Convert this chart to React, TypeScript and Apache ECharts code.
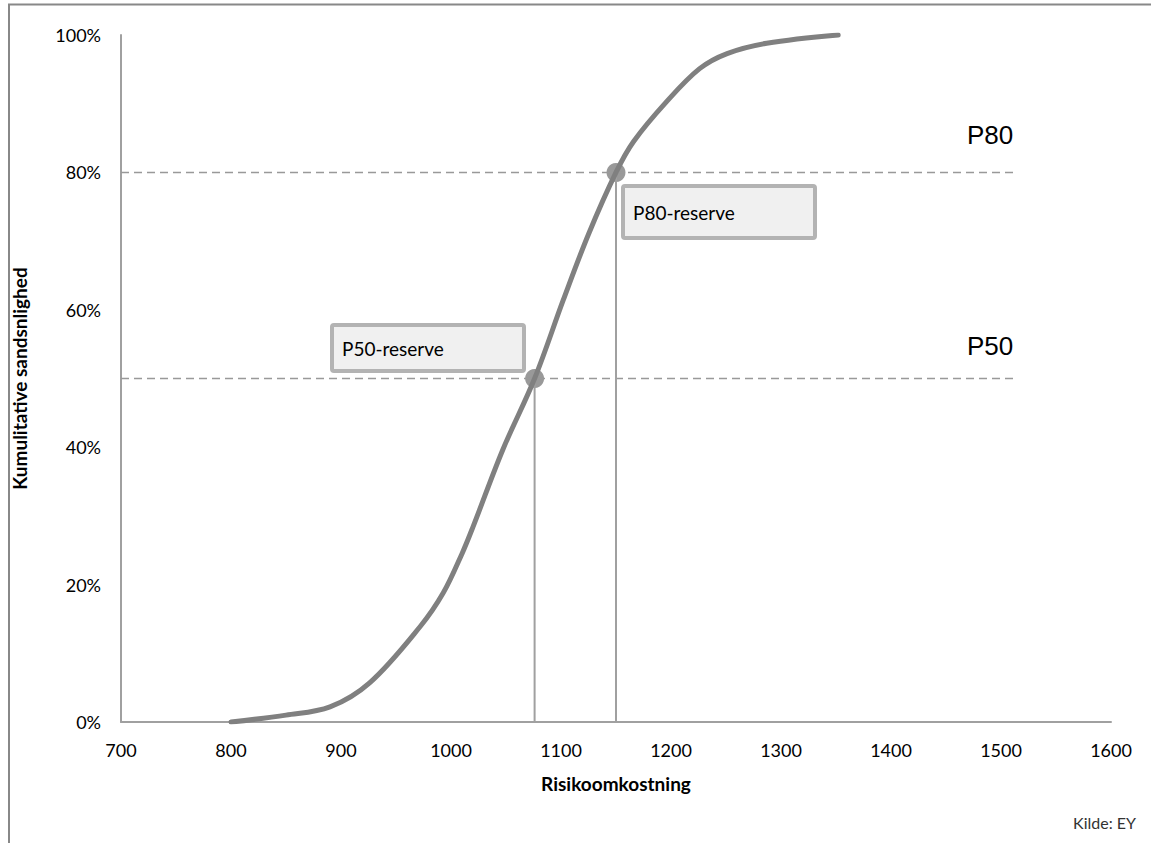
import React, { useEffect, useRef } from "react";
import * as echarts from "echarts";

const xTicks = [700, 800, 900, 1000, 1100, 1200, 1300, 1400, 1500, 1600];
const costValues = [800, 850, 890, 926, 972, 993, 1010, 1020, 1047, 1076, 1102, 1125, 1150, 1166, 1196, 1226, 1251, 1287, 1352];
const cumulativePct = [0, 1.0, 2.2, 5.7, 13.9, 18.8, 24.5, 28.4, 39.6, 50, 61.4, 71, 80, 84.5, 90.3, 95.1, 97.3, 98.8, 100];
const p50 = [1076, 50];
const p80 = [1150, 80];
const refLineEnd = 1515;
const xAxisName = "Risikoomkostning";
const yAxisName = "Kumulitative sandsnlighed";
const sourceText = "Kilde: EY";

const FONT = "Lato, 'Noto Sans', sans-serif";

export default function App() {
  const ref = useRef<HTMLDivElement>(null);
  useEffect(() => {
    if (!ref.current) return;
    const chart = echarts.init(ref.current, null, { renderer: "svg" });
    const curve = costValues.map((x, i) => [x, cumulativePct[i]]);
    const box = (x: number, y: number, w: number, h: number, label: string) => ({
      type: "group",
      children: [
        {
          type: "rect",
          shape: { x, y, width: w, height: h, r: 2 },
          style: { fill: "#f0f0f0", stroke: "#b3b3b3", lineWidth: 4 },
        },
        {
          type: "text",
          x: x + 10,
          y: y + h / 2,
          style: { text: label, font: `19px ${FONT}`, fill: "#000", verticalAlign: "middle" },
        },
      ],
    });
    chart.setOption({
      animation: false,
      backgroundColor: "#fff",
      grid: { left: 121, right: 40, top: 35, bottom: 121 },
      xAxis: {
        type: "value",
        min: 700,
        max: 1600,
        interval: 100,
        name: xAxisName,
        nameLocation: "middle",
        nameGap: 52,
        nameTextStyle: { fontFamily: FONT, fontSize: 19, fontWeight: "bold", color: "#000" },
        axisLine: { show: true, lineStyle: { color: "#a0a0a0", width: 2 } },
        axisTick: { show: false },
        splitLine: { show: false },
        axisLabel: {
          fontFamily: FONT,
          fontSize: 18,
          color: "#000",
          margin: 19,
          formatter: (v: number) => (xTicks.includes(v) ? String(v) : ""),
        },
      },
      yAxis: {
        type: "value",
        min: 0,
        max: 100,
        interval: 20,
        name: yAxisName,
        nameLocation: "middle",
        nameGap: 92,
        nameTextStyle: { fontFamily: FONT, fontSize: 19, fontWeight: "bold", color: "#000" },
        axisLine: { show: true, lineStyle: { color: "#a0a0a0", width: 2 } },
        axisTick: { show: false },
        splitLine: { show: false },
        axisLabel: { fontFamily: FONT, fontSize: 18, color: "#000", margin: 20, formatter: "{value}%" },
      },
      series: [
        {
          type: "line",
          data: [[700, 80], [refLineEnd, 80]],
          symbol: "none",
          lineStyle: { color: "#999", width: 1.5, type: [8, 5] },
          silent: true,
        },
        {
          type: "line",
          data: [[700, 50], [refLineEnd, 50]],
          symbol: "none",
          lineStyle: { color: "#999", width: 1.5, type: [8, 5] },
          silent: true,
        },
        {
          type: "line",
          data: [[p50[0], 0], p50],
          symbol: "none",
          lineStyle: { color: "#a0a0a0", width: 2 },
        },
        {
          type: "line",
          data: [[p80[0], 0], p80],
          symbol: "none",
          lineStyle: { color: "#a0a0a0", width: 2 },
        },
        {
          type: "line",
          data: curve,
          smooth: 0.35,
          symbol: "none",
          lineStyle: { color: "#808080", width: 5, cap: "round" },
        },
        {
          type: "scatter",
          data: [p50, p80],
          symbolSize: 19,
          itemStyle: { color: "#808080" },
        },
      ],
      graphic: [
        { type: "line", shape: { x1: 8, y1: 4.5, x2: 1151, y2: 4.5 }, style: { stroke: "#888", lineWidth: 2 } },
        { type: "line", shape: { x1: 9, y1: 4, x2: 9, y2: 843 }, style: { stroke: "#888", lineWidth: 2 } },
        box(332, 325, 192, 46, "P50-reserve"),
        box(623, 186, 192, 52, "P80-reserve"),
        { type: "text", x: 967, y: 135, style: { text: "P80", font: "26px 'Liberation Sans', Arial, sans-serif", fill: "#000", verticalAlign: "middle" } },
        { type: "text", x: 967, y: 346, style: { text: "P50", font: "26px 'Liberation Sans', Arial, sans-serif", fill: "#000", verticalAlign: "middle" } },
        { type: "text", x: 1136, y: 822, style: { text: sourceText, font: `16px ${FONT}`, fill: "#333", align: "right", verticalAlign: "middle" } },
      ],
    });
    return () => chart.dispose();
  }, []);
  return <div ref={ref} style={{ position: "fixed", left: 0, top: 0, width: 1151, height: 843 }} />;
}
